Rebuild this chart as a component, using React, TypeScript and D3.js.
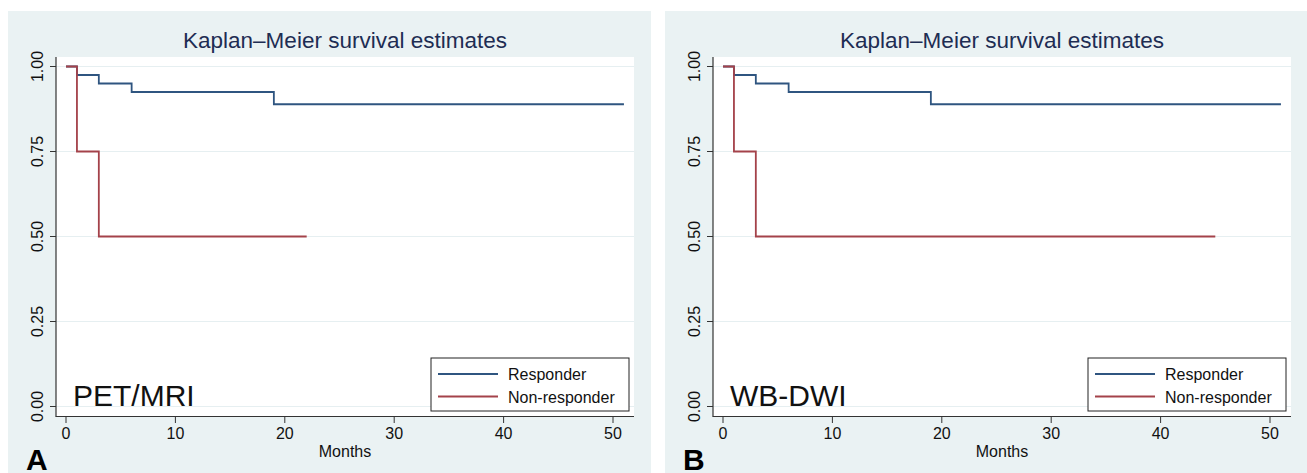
import React from 'react';
import * as d3 from 'd3';

// Kaplan-Meier step data (months, survival)
const responderTimes = [0, 1, 3, 6, 19, 51];
const responderSurv = [1, 0.975, 0.95, 0.925, 0.889, 0.889];

const nonResponderTimes = [0, 1, 3, 22];
const nonResponderTimesB = [0, 1, 3, 45];
const nonResponderSurv = [1, 0.75, 0.5, 0.5];

const xTicks = [0, 10, 20, 30, 40, 50];
const yTicks = [0, 0.25, 0.5, 0.75, 1];

const panels = [
  { letter: 'A', label: 'PET/MRI', nonTimes: nonResponderTimes },
  { letter: 'B', label: 'WB-DWI', nonTimes: nonResponderTimesB },
];

const FONT = '"Liberation Sans", Arial, Helvetica, sans-serif';
const BLUE = '#2f5580';
const RED = '#a4424a';

const Panel = ({ letter, label, nonTimes, offset }) => {
  const x = d3.scaleLinear().domain([0, 50]).range([66, 613]);
  const y = d3.scaleLinear().domain([0, 1]).range([406.5, 66.5]);
  const line = d3
    .line()
    .x(d => x(d[0]))
    .y(d => y(d[1]))
    .curve(d3.curveStepAfter);

  const resp = responderTimes.map((t, i) => [t, responderSurv[i]]);
  const non = nonTimes.map((t, i) => [t, nonResponderSurv[i]]);

  return (
    <g transform={`translate(${offset},0)`}>
      <rect x={8} y={11} width={643} height={470} fill="#eaf2f3" />
      <rect x={56} y={57} width={578} height={359} fill="#fff" />
      {yTicks.map(t => (
        <line key={t} x1={56} x2={634} y1={y(t)} y2={y(t)} stroke="#e6eff1" strokeWidth={1.2} />
      ))}
      <text x={345} y={48} textAnchor="middle" fontFamily={FONT} fontSize={22.5} fill="#1e2d53">
        Kaplan–Meier survival estimates
      </text>

      {/* survival curves */}
      <path d={line(resp)} fill="none" stroke={BLUE} strokeWidth={1.8} />
      <path d={line(non)} fill="none" stroke={RED} strokeWidth={1.8} />

      {/* axes */}
      <line x1={56} x2={56} y1={57} y2={416.5} stroke="#333" strokeWidth={1.2} />
      <line x1={55.5} x2={634} y1={416.5} y2={416.5} stroke="#333" strokeWidth={1.2} />
      {yTicks.map(t => (
        <g key={t}>
          <line x1={50} x2={56} y1={y(t)} y2={y(t)} stroke="#333" strokeWidth={1} />
          <text
            transform={`translate(42.5,${y(t)}) rotate(-90)`}
            textAnchor="middle"
            fontFamily={FONT}
            fontSize={16}
            fill="#111"
          >
            {d3.format('.2f')(t)}
          </text>
        </g>
      ))}
      {xTicks.map(t => (
        <g key={t}>
          <line x1={x(t)} x2={x(t)} y1={416.5} y2={423} stroke="#333" strokeWidth={1} />
          <text x={x(t)} y={439} textAnchor="middle" fontFamily={FONT} fontSize={16} fill="#111">
            {t}
          </text>
        </g>
      ))}
      <text x={345} y={457} textAnchor="middle" fontFamily={FONT} fontSize={16} fill="#111">
        Months
      </text>

      {/* legend */}
      <rect x={431} y={358} width={198} height={53} fill="#fff" stroke="#222" strokeWidth={1} />
      <line x1={438} x2={498} y1={374} y2={374} stroke={BLUE} strokeWidth={1.8} />
      <line x1={438} x2={498} y1={396.5} y2={396.5} stroke={RED} strokeWidth={1.8} />
      <text x={508} y={380} fontFamily={FONT} fontSize={16} fill="#111">Responder</text>
      <text x={508} y={402.5} fontFamily={FONT} fontSize={16} fill="#111">Non-responder</text>

      <text x={73} y={406} fontFamily={FONT} fontSize={30} fill="#111">{label}</text>
      <text x={26} y={470} fontFamily={FONT} fontSize={30} fontWeight="bold" fill="#000">{letter}</text>
    </g>
  );
};

export default function App() {
  return (
    <svg
      width={1307}
      height={473}
      style={{ position: 'absolute', left: 0, top: 0, background: '#fff' }}
    >
      {panels.map((p, i) => (
        <Panel key={p.letter} {...p} offset={i * 657} />
      ))}
    </svg>
  );
}
